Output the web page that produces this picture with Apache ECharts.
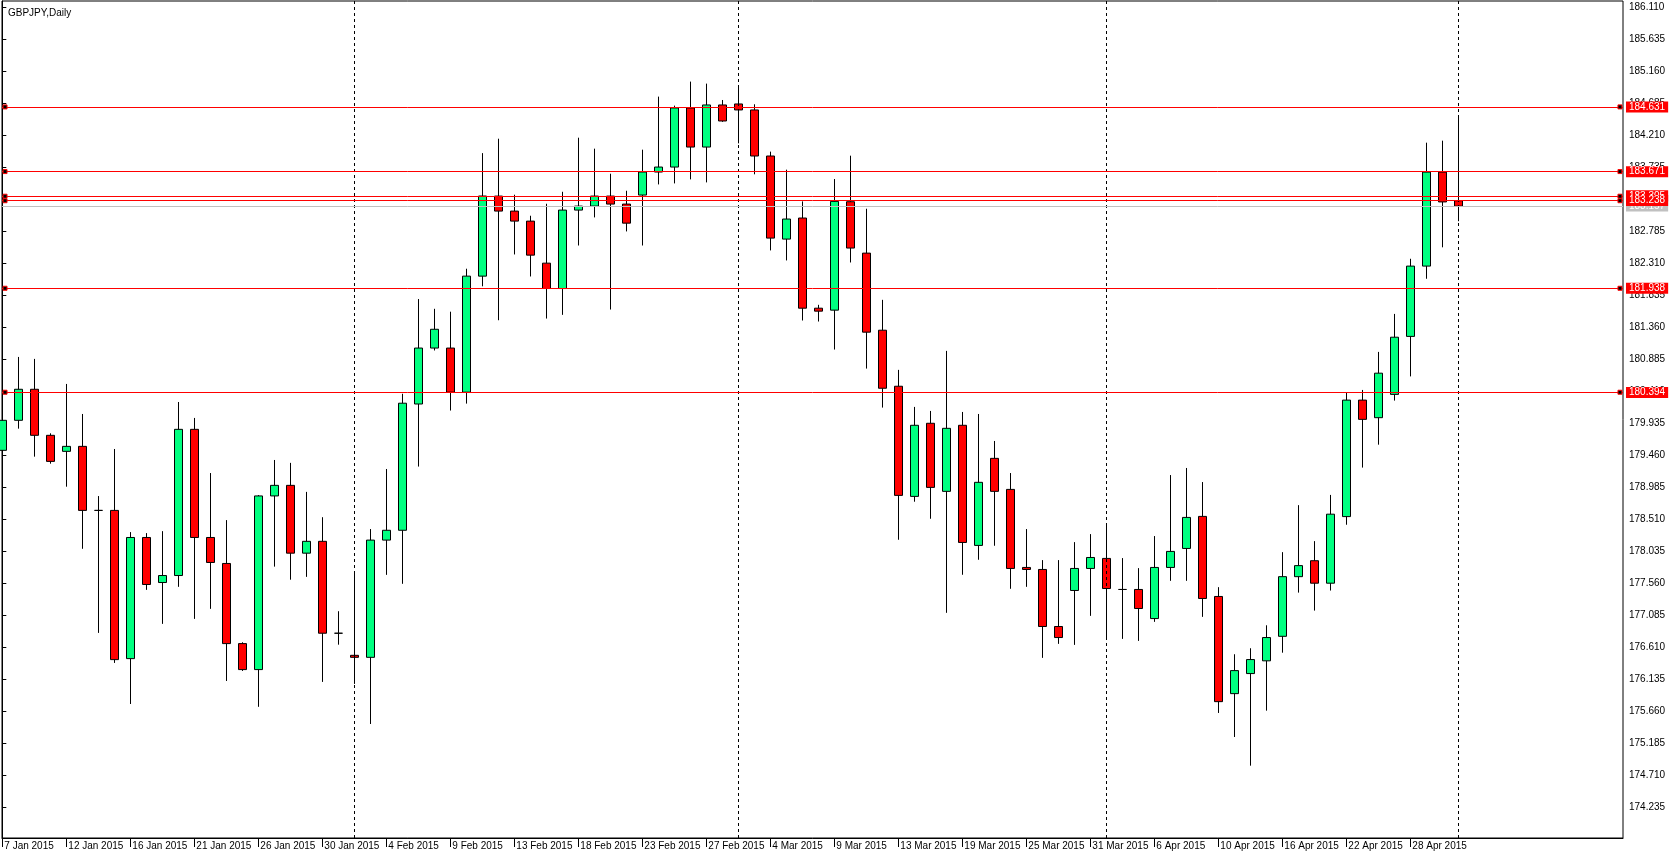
<!DOCTYPE html>
<html>
<head>
<meta charset="utf-8">
<title>GBPJPY,Daily</title>
<script src="https://cdn.jsdelivr.net/npm/echarts@6.0.0/dist/echarts.min.js"></script>
<style>
  html, body { margin: 0; padding: 0; background: #fff; }
  #chart { width: 1676px; height: 859px; }
</style>
</head>
<body>
<div id="chart"></div>
<script>
// bars (Sun-Fri session bars, broker time)
const dates = [
  "7 Jan", "8 Jan", "9 Jan", "11 Jan", "12 Jan", "13 Jan", "14 Jan", "15 Jan", "16 Jan", "18 Jan",
  "19 Jan", "20 Jan", "21 Jan", "22 Jan", "23 Jan", "25 Jan", "26 Jan", "27 Jan", "28 Jan", "29 Jan",
  "30 Jan", "1 Feb", "2 Feb", "3 Feb", "4 Feb", "5 Feb", "6 Feb", "8 Feb", "9 Feb", "10 Feb",
  "11 Feb", "12 Feb", "13 Feb", "15 Feb", "16 Feb", "17 Feb", "18 Feb", "19 Feb", "20 Feb", "22 Feb",
  "23 Feb", "24 Feb", "25 Feb", "26 Feb", "27 Feb", "1 Mar", "2 Mar", "3 Mar", "4 Mar", "5 Mar",
  "6 Mar", "8 Mar", "9 Mar", "10 Mar", "11 Mar", "12 Mar", "13 Mar", "16 Mar", "17 Mar", "18 Mar",
  "19 Mar", "20 Mar", "23 Mar", "24 Mar", "25 Mar", "26 Mar", "27 Mar", "30 Mar", "31 Mar", "1 Apr",
  "2 Apr", "3 Apr", "6 Apr", "7 Apr", "8 Apr", "9 Apr", "10 Apr", "13 Apr", "14 Apr", "15 Apr",
  "16 Apr", "17 Apr", "20 Apr", "21 Apr", "22 Apr", "23 Apr", "24 Apr", "27 Apr", "28 Apr", "29 Apr",
  "30 Apr", "1 May",
];
const opens = [
  179.531, 179.977, 180.438, 179.754, 179.516, 179.590, 178.639, 178.639, 176.438, 178.237,
  177.568, 177.672, 179.843, 178.237, 177.851, 176.661, 176.275, 178.854, 179.011, 178.004,
  178.180, 176.815, 176.487, 176.457, 178.198, 178.344, 180.219, 181.050, 181.050, 180.395,
  182.118, 183.307, 183.084, 182.935, 182.311, 181.934, 183.099, 183.158, 183.307, 183.188,
  183.322, 183.664, 183.738, 184.615, 184.035, 184.660, 184.675, 184.586, 183.902, 182.668,
  182.981, 181.642, 181.613, 183.223, 182.460, 181.315, 180.483, 178.847, 179.933, 178.922,
  179.903, 178.119, 179.412, 178.951, 177.792, 177.762, 176.915, 177.450, 177.777, 177.926,
  177.465, 177.465, 177.033, 177.792, 178.074, 178.550, 177.361, 175.918, 176.216, 176.405,
  176.769, 177.655, 177.892, 177.558, 178.547, 180.277, 180.016, 180.362, 181.223, 182.267,
  183.663, 183.238,
];
const highs = [
  180.050, 180.918, 180.889, 179.784, 180.517, 180.071, 178.852, 179.551, 178.317, 178.302,
  178.331, 180.249, 180.012, 179.194, 178.495, 176.681, 178.867, 179.388, 179.345, 178.914,
  178.538, 177.142, 177.701, 178.362, 179.254, 180.371, 181.778, 181.633, 181.590, 182.228,
  183.945, 184.159, 183.327, 183.015, 183.193, 183.371, 184.174, 184.011, 183.639, 183.386,
  183.996, 184.784, 184.650, 185.007, 184.977, 184.734, 184.927, 184.670, 183.967, 183.699,
  183.228, 181.692, 183.560, 183.907, 183.119, 181.766, 180.726, 180.176, 180.116, 181.008,
  180.101, 180.071, 179.670, 179.194, 178.362, 177.901, 177.901, 178.168, 178.287, 178.421,
  177.931, 177.782, 178.258, 179.164, 179.269, 179.060, 177.499, 176.503, 176.592, 176.933,
  178.019, 178.717, 178.183, 178.869, 180.392, 180.428, 180.993, 181.557, 182.376, 184.100,
  184.130, 184.482,
];
const lows = [
  179.450, 179.853, 179.437, 179.333, 178.991, 178.069, 176.820, 176.374, 175.764, 177.459,
  176.954, 177.504, 177.028, 177.177, 176.106, 176.255, 175.722, 177.804, 177.610, 177.652,
  176.092, 176.645, 176.062, 175.467, 177.682, 177.549, 179.290, 181.014, 180.122, 180.225,
  181.967, 181.463, 182.440, 182.113, 181.488, 181.543, 182.573, 182.990, 181.622, 182.782,
  182.573, 183.480, 183.495, 183.555, 183.510, 184.410, 184.090, 183.630, 182.500, 182.351,
  181.459, 181.444, 181.028, 182.321, 180.745, 180.166, 178.203, 178.768, 178.515, 177.118,
  177.683, 177.906, 178.114, 177.475, 177.504, 176.449, 176.657, 176.642, 177.073, 176.746,
  176.731, 176.701, 176.984, 177.593, 177.593, 177.058, 175.631, 175.274, 174.848, 175.665,
  176.526, 177.418, 177.151, 177.449, 178.426, 179.275, 179.615, 180.270, 180.629, 182.079,
  182.546, 182.934,
];
const closes = [
  179.977, 180.438, 179.754, 179.367, 179.590, 178.639, 178.639, 176.423, 178.237, 177.539,
  177.672, 179.843, 178.237, 177.866, 176.661, 176.275, 178.854, 179.011, 178.004, 178.180,
  176.815, 176.815, 176.457, 178.198, 178.344, 180.231, 181.050, 181.329, 180.395, 182.118,
  183.308, 183.084, 182.935, 182.430, 181.934, 183.099, 183.158, 183.307, 183.188, 182.905,
  183.664, 183.738, 184.615, 184.035, 184.660, 184.422, 184.586, 183.902, 182.683, 182.966,
  181.642, 181.598, 183.228, 182.535, 181.286, 180.453, 178.862, 179.903, 178.981, 179.858,
  178.163, 179.056, 178.922, 177.777, 177.762, 176.915, 176.751, 177.777, 177.940, 177.479,
  177.465, 177.182, 177.792, 178.030, 178.535, 177.331, 175.799, 176.260, 176.424, 176.751,
  177.655, 177.819, 177.558, 178.583, 180.277, 179.991, 180.677, 181.211, 182.267, 183.663,
  183.220, 183.157,
];
// date labels every 4 bars
const tickIndex = [0, 4, 8, 12, 16, 20, 24, 28, 32, 36, 40, 44, 48, 52, 56, 60, 64, 68, 72, 76, 80, 84, 88];
// month separators (first bar of Feb, Mar, Apr, May)
const separatorIndex = [22, 46, 69, 91];
// price scale labels
const priceTicks = [
  186.110, 185.635, 185.160, 184.685, 184.210, 183.735, 183.260, 182.785, 182.310,
  181.835, 181.360, 180.885, 180.410, 179.935, 179.460, 178.985, 178.510, 178.035,
  177.560, 177.085, 176.610, 176.135, 175.660, 175.185, 174.710, 174.235,
];
// horizontal level lines and bid
const levels = [184.631, 183.671, 183.305, 183.238, 181.938, 180.394];
const bidPrice = 183.157;

const X_MIN = -0.02;
const X_MAX = 101.29;
const Y_MIN = 173.774;
const Y_MAX = 186.204;
const FONT = "'Liberation Sans', Arial, sans-serif";

let chart = null;

const candles = opens.map((o, i) => [i, o, closes[i], lows[i], highs[i]]);
const markers = [];
levels.forEach((v) => {
  markers.push([X_MIN + 0.19, v]);
  markers.push([X_MAX - 0.19, v]);
});

const tagLabel = (bg) => ({
  show: true,
  position: "end",
  distance: 3,
  formatter: "{b}",
  color: "#fff",
  backgroundColor: bg,
  padding: [1, 3, 0, 3],
  fontSize: 10,
  fontFamily: FONT,
});

const options = {
  animation: false,
  backgroundColor: "#fff",
  title: {
    text: "GBPJPY,Daily",
    left: 3,
    top: 3,
    textStyle: {
      fontSize: 10,
      fontWeight: "normal",
      color: "#000",
      fontFamily: FONT,
    },
  },
  grid: {
    left: 2,
    right: 53,
    top: 1,
    bottom: 21,
    show: true,
    borderColor: "#000",
    borderWidth: 1,
    backgroundColor: "#fff",
  },
  xAxis: {
    type: "value",
    min: X_MIN,
    max: X_MAX,
    axisLine: { show: true, lineStyle: { color: "#000", width: 1 } },
    splitLine: { show: false },
    axisTick: {
      show: true,
      length: 9,
      customValues: tickIndex,
      lineStyle: { color: "#000" },
    },
    axisLabel: {
      customValues: tickIndex,
      formatter: (v) => dates[v] + " 2015",
      align: "left",
      padding: [0, 0, 0, 2],
      margin: 3,
      color: "#000",
      fontSize: 10,
      fontFamily: FONT,
    },
  },
  yAxis: {
    type: "value",
    position: "right",
    min: Y_MIN,
    max: Y_MAX,
    axisLine: { show: true, lineStyle: { color: "#000", width: 1 } },
    splitLine: { show: false },
    axisTick: {
      show: true,
      length: 4,
      customValues: priceTicks,
      lineStyle: { color: "#000" },
    },
    axisLabel: {
      customValues: priceTicks,
      formatter: (v) => v.toFixed(3),
      margin: 6,
      color: "#000",
      fontSize: 10,
      fontFamily: FONT,
    },
  },
  series: [
    {
      // month separators, behind the bars
      name: "separators",
      type: "line",
      data: [],
      z: 1,
      markLine: {
        silent: true,
        symbol: ["none", "none"],
        label: { show: false },
        lineStyle: { color: "#000", type: [3, 3], width: 1 },
        data: separatorIndex.map((v) => ({ xAxis: v })),
      },
    },
    {
      name: "GBPJPY",
      type: "candlestick",
      z: 3,
      barWidth: 9,
      data: candles,
      itemStyle: {
        color: "#00FF80",
        color0: "#FF0000",
        borderColor: "#000",
        borderColor0: "#000",
        borderColorDoji: "#000",
        borderWidth: 1,
      },
    },
    {
      name: "bid",
      type: "line",
      data: [],
      z: 4,
      markLine: {
        silent: true,
        symbol: ["none", "none"],
        lineStyle: { color: "#C0C0C0", type: "solid", width: 1 },
        label: tagLabel("#C0C0C0"),
        data: [{ yAxis: bidPrice, name: bidPrice.toFixed(3) }],
      },
    },
    {
      name: "levels",
      type: "line",
      data: [],
      z: 5,
      markLine: {
        silent: true,
        symbol: ["none", "none"],
        lineStyle: { color: "#FF0000", type: "solid", width: 1 },
        label: tagLabel("#FF0000"),
        data: levels.map((v) => ({ yAxis: v, name: v.toFixed(3) })),
      },
    },
    {
      // selection squares at the ends of each level line
      name: "anchors",
      type: "scatter",
      z: 6,
      symbol: "rect",
      symbolSize: 4,
      silent: true,
      data: markers,
      itemStyle: { color: "#000", borderColor: "#FF0000", borderWidth: 1, opacity: 1 },
    },
  ],
};

chart = echarts.init(document.getElementById("chart"));
chart.setOption(options);
</script>
</body>
</html>
